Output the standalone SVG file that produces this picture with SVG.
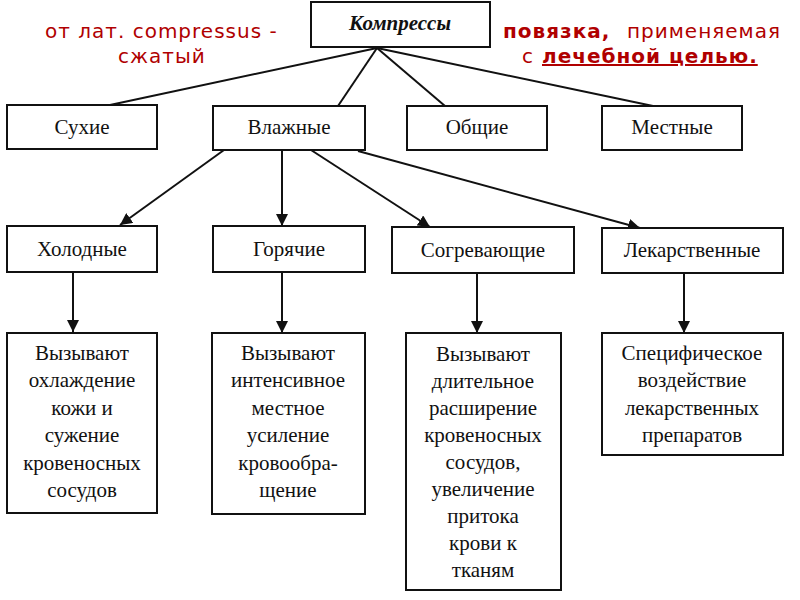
<svg xmlns="http://www.w3.org/2000/svg" width="800" height="600" viewBox="0 0 800 600">
<defs>
<style>
.box{fill:#fff;stroke:#111;stroke-width:2}
.t{font-family:"Liberation Serif","Times New Roman",serif;font-size:21px;fill:#111;text-anchor:middle}
.b{font-family:"Liberation Serif","Times New Roman",serif;font-size:21px;fill:#111;text-anchor:middle}
.red{font-family:"DejaVu Sans",Verdana,sans-serif;font-size:20px;fill:#b00000;letter-spacing:1px}
.ln{stroke:#111;stroke-width:2;fill:none}
</style>
<marker id="ah" markerUnits="userSpaceOnUse" markerWidth="12" markerHeight="12" refX="12" refY="6" orient="auto">
<path d="M0,0 L12,6 L0,12 z" fill="#111"/>
</marker>
</defs>
<rect width="800" height="600" fill="#fff"/>

<g id="note-left">
<text class="red" x="45" y="38">от лат. compressus -</text>
<text class="red" x="118" y="63">сжатый</text>
</g>
<g id="note-right">
<text class="red" y="38"><tspan x="503" font-weight="bold">повязка,</tspan><tspan x="627">применяемая</tspan></text>
<text class="red" y="63"><tspan x="522">с</tspan><tspan x="542" font-weight="bold" text-decoration="underline">лечебной целью.</tspan></text>
</g>

<g id="connectors">
<line class="ln" x1="377" y1="48" x2="110" y2="105"/>
<line class="ln" x1="377" y1="48" x2="338" y2="106"/>
<line class="ln" x1="377" y1="48" x2="445" y2="106"/>
<line class="ln" x1="377" y1="48" x2="653" y2="106"/>
<line class="ln" x1="224" y1="150" x2="120" y2="225" marker-end="url(#ah)"/>
<line class="ln" x1="282" y1="150" x2="282" y2="226" marker-end="url(#ah)"/>
<line class="ln" x1="311" y1="150" x2="430" y2="227" marker-end="url(#ah)"/>
<line class="ln" x1="358" y1="151" x2="640" y2="228" marker-end="url(#ah)"/>
<line class="ln" x1="73" y1="272" x2="73" y2="332" marker-end="url(#ah)"/>
<line class="ln" x1="282" y1="272" x2="282" y2="333" marker-end="url(#ah)"/>
<line class="ln" x1="477" y1="273" x2="477" y2="333" marker-end="url(#ah)"/>
<line class="ln" x1="684" y1="273" x2="684" y2="333" marker-end="url(#ah)"/>
</g>

<g id="kompressy">
<rect class="box" x="311" y="2" width="179" height="45"/>
<text class="t" x="400" y="30" font-size="22" font-style="italic" font-weight="bold">Компрессы</text>
</g>
<g id="suhie">
<rect class="box" x="7" y="105" width="150" height="44"/>
<text class="t" x="82" y="134">Сухие</text>
</g>
<g id="vlazhnye">
<rect class="box" x="213" y="106" width="152" height="44"/>
<text class="t" x="289" y="134">Влажные</text>
</g>
<g id="obshchie">
<rect class="box" x="407" y="106" width="140" height="44"/>
<text class="t" x="477" y="134">Общие</text>
</g>
<g id="mestnye">
<rect class="box" x="602" y="106" width="140" height="44"/>
<text class="t" x="672" y="134">Местные</text>
</g>

<g id="holodnye">
<rect class="box" x="7" y="226" width="150" height="46"/>
<text class="t" x="82" y="256">Холодные</text>
</g>
<g id="goryachie">
<rect class="box" x="213" y="226" width="152" height="46"/>
<text class="t" x="289" y="256">Горячие</text>
</g>
<g id="sogrevayushchie">
<rect class="box" x="392" y="227" width="182" height="46"/>
<text class="t" x="483" y="257">Согревающие</text>
</g>
<g id="lekarstvennye">
<rect class="box" x="602" y="228" width="181" height="45"/>
<text class="t" x="692" y="257">Лекарственные</text>
</g>

<g id="desc-holodnye">
<rect class="box" x="7" y="333" width="150" height="180"/>
<text class="b" x="82" y="360">Вызывают</text>
<text class="b" x="82" y="387">охлаждение</text>
<text class="b" x="82" y="415">кожи и</text>
<text class="b" x="82" y="442">сужение</text>
<text class="b" x="82" y="470">кровеносных</text>
<text class="b" x="82" y="497">сосудов</text>
</g>
<g id="desc-goryachie">
<rect class="box" x="212" y="333" width="153" height="181"/>
<text class="b" x="288" y="360">Вызывают</text>
<text class="b" x="288" y="387">интенсивное</text>
<text class="b" x="288" y="415">местное</text>
<text class="b" x="288" y="442">усиление</text>
<text class="b" x="288" y="470">кровообра-</text>
<text class="b" x="288" y="497">щение</text>
</g>
<g id="desc-sogrevayushchie">
<rect class="box" x="406" y="333" width="155" height="257"/>
<text class="b" x="483" y="361">Вызывают</text>
<text class="b" x="483" y="388">длительное</text>
<text class="b" x="483" y="415">расширение</text>
<text class="b" x="483" y="442">кровеносных</text>
<text class="b" x="483" y="469">сосудов,</text>
<text class="b" x="483" y="496">увеличение</text>
<text class="b" x="483" y="523">притока</text>
<text class="b" x="483" y="550">крови к</text>
<text class="b" x="483" y="577">тканям</text>
</g>
<g id="desc-lekarstvennye">
<rect class="box" x="602" y="333" width="181" height="122"/>
<text class="b" x="692" y="360">Специфическое</text>
<text class="b" x="692" y="387">воздействие</text>
<text class="b" x="692" y="415">лекарственных</text>
<text class="b" x="692" y="442">препаратов</text>
</g>
</svg>
